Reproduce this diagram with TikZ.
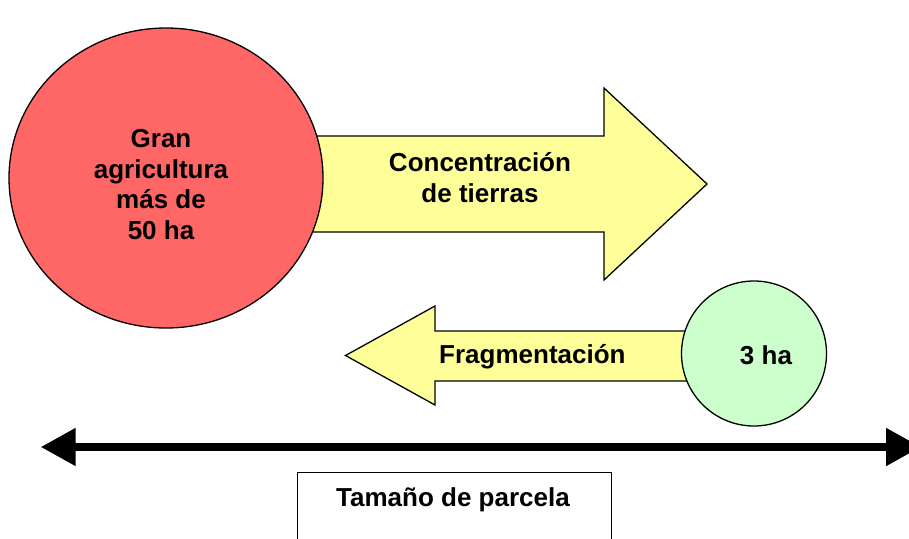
\documentclass[tikz,border=0pt]{standalone}
\usepackage{fontspec}
\setmainfont{Liberation Sans}
\usetikzlibrary{shapes.geometric,arrows.meta}
\definecolor{redfill}{HTML}{FF6666}
\definecolor{yellowfill}{HTML}{FFFF99}
\definecolor{greenfill}{HTML}{CCFFCC}
\tikzset{
  lbl/.style={font=\bfseries\fontsize{26}{30.5}\selectfont, align=center, inner sep=0pt},
  outline/.style={draw=black, line width=1.3pt, line join=miter},
  bigarrow/.style={outline, fill=yellowfill},
}
\begin{document}
\begin{tikzpicture}[x=1pt,y=-1pt]
\useasboundingbox (0,0) rectangle (909,538);
\clip (0,0) rectangle (909,538);
% right arrow (Concentracion)
\draw[bigarrow] (250,136) -- (604,136) -- (604,88) -- (707,184) -- (604,280) -- (604,232) -- (250,232) -- cycle;
\node[lbl] (conc) at (480,177.5) {Concentración\\de tierras};
% big circle
\node[ellipse, outline, fill=redfill, minimum width=314pt, minimum height=300pt, inner sep=0pt] (big) at (166,178) {};
\node[lbl] (bigtxt) at (161,184.5) {Gran\\agricultura\\más de\\50 ha};
% left arrow (Fragmentacion)
\draw[bigarrow] (720,331) -- (435,331) -- (435,306) -- (345.5,355.5) -- (435,405) -- (435,381) -- (720,381) -- cycle;
\node[lbl, anchor=west] (frag) at (439,357) {Fragmentación};
% small circle
\node[circle, outline, fill=greenfill, minimum size=145pt, inner sep=0pt] (small) at (754,353.5) {};
\node[lbl] (smalltxt) at (766,355) {3 ha};
% double arrow
\coordinate (L) at (40.7,447);
\coordinate (R) at (921,447);
\draw[line width=8pt, {Triangle[length=35pt,width=36pt]}-{Triangle[length=35pt,width=36pt]}] (L) -- (R);
% box
\node[draw=black, line width=1.3pt, minimum width=314pt, minimum height=100pt, anchor=north west, inner sep=0pt] (box) at (297,472) {};
\node[lbl] (boxtxt) at (453,500) {Tamaño de parcela};
\end{tikzpicture}
\end{document}
